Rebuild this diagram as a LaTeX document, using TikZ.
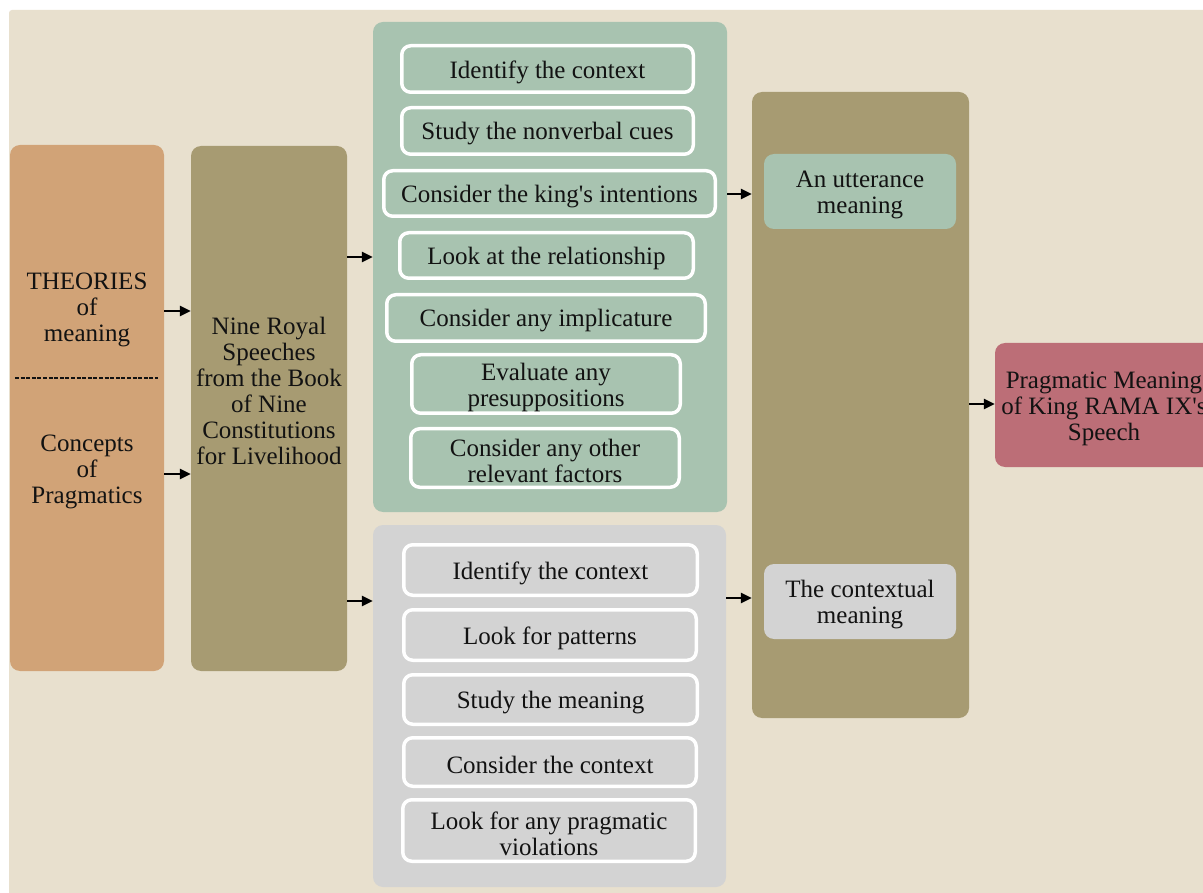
\documentclass[tikz,border=0pt]{standalone}
\usepackage{fontspec}
\setmainfont{Liberation Serif}[Ligatures=TeXOff]
\usetikzlibrary{arrows.meta}
\definecolor{bgbeige}{HTML}{E8E0CE}
\definecolor{tanc}{HTML}{D1A377}
\definecolor{olivec}{HTML}{A79B72}
\definecolor{greenc}{HTML}{A8C3B0}
\definecolor{greyc}{HTML}{D3D3D3}
\definecolor{redc}{HTML}{BC6E77}
\definecolor{inkc}{HTML}{121212}
\newcommand\diafont{\fontsize{25}{26}\selectfont}
\tikzset{
  panel/.style={rectangle, rounded corners=10pt, inner sep=0pt},
  item/.style={rectangle, rounded corners=9pt, draw=white, line width=3.5pt, inner sep=0pt},
  lbl/.style={align=center, font=\diafont, inner sep=0pt, text=inkc},
  tlbl/.style={lbl, yshift=-3pt},
  arr/.style={-{Triangle[length=11pt,width=10pt]}, line width=2.8pt, black}
}
\begin{document}
\begin{tikzpicture}[x=1pt,y=-1pt]
\useasboundingbox (0,0) rectangle (1203,893);
\fill[white] (0,0) rectangle (1203,893);
\fill[bgbeige, rounded corners=3pt] (9,10) rectangle (1215,905);

% left columns
\node[panel, fill=tanc, minimum width=154pt, minimum height=526pt] (A) at (87,408) {};
\node[panel, fill=olivec, minimum width=156pt, minimum height=525pt] (B) at (269,408.5) {};
\node[lbl] (theo) at (87,310) {THEORIES\\of\\meaning};
\node[lbl] (conc) at (87,472) {Concepts\\of\\Pragmatics};
\coordinate (dl) at (15,378);
\coordinate (dr) at (158,378);
\draw[line width=2.4pt, dash pattern=on 4pt off 1.6pt, inkc] (dl) -- (dr);
\node[lbl] (nine) at (269,391) {Nine Royal\\Speeches\\from the Book\\of Nine\\Constitutions\\for Livelihood};

% green container
\node[panel, fill=greenc, minimum width=354pt, minimum height=490pt] (G) at (550,267) {};
\node[item, fill=greenc, minimum width=291.5pt, minimum height=46.5pt] (g1) at (547.5,69) {};
\node[item, fill=greenc, minimum width=291.5pt, minimum height=46.5pt] (g2) at (547.5,131) {};
\node[item, fill=greenc, minimum width=331.5pt, minimum height=45.5pt] (g3) at (549.5,193.5) {};
\node[item, fill=greenc, minimum width=293.5pt, minimum height=45.5pt] (g4) at (546.5,255.5) {};
\node[item, fill=greenc, minimum width=318.5pt, minimum height=46.5pt] (g5) at (546,318) {};
\node[item, fill=greenc, minimum width=268.5pt, minimum height=58.5pt] (g6) at (546,384) {};
\node[item, fill=greenc, minimum width=268.5pt, minimum height=58.5pt] (g7) at (545,458) {};
\node[tlbl] (g1t) at (g1) {Identify the context};
\node[tlbl] (g2t) at (g2) {Study the nonverbal cues};
\node[tlbl] (g3t) at (g3) {Consider the king's intentions};
\node[tlbl] (g4t) at (g4) {Look at the relationship};
\node[tlbl] (g5t) at (g5) {Consider any implicature};
\node[tlbl] (g6t) at (g6) {Evaluate any\\presuppositions};
\node[tlbl] (g7t) at (g7) {Consider any other\\relevant factors};

% grey container
\node[panel, fill=greyc, minimum width=353pt, minimum height=362pt] (Gr) at (549.5,706) {};
\node[item, fill=greyc, minimum width=293.5pt, minimum height=50.5pt] (r1) at (550.5,570) {};
\node[item, fill=greyc, minimum width=292.5pt, minimum height=50.5pt] (r2) at (550,635) {};
\node[item, fill=greyc, minimum width=293.5pt, minimum height=49.5pt] (r3) at (550.5,699.5) {};
\node[item, fill=greyc, minimum width=292.5pt, minimum height=48.5pt] (r4) at (550,762) {};
\node[item, fill=greyc, minimum width=292.5pt, minimum height=61.5pt] (r5) at (549,830.5) {};
\node[tlbl] (r1t) at (r1) {Identify the context};
\node[tlbl] (r2t) at (r2) {Look for patterns};
\node[tlbl] (r3t) at (r3) {Study the meaning};
\node[tlbl] (r4t) at (r4) {Consider the context};
\node[tlbl] (r5t) at (r5) {Look for any pragmatic\\violations};

% right olive container
\node[panel, fill=olivec, minimum width=217pt, minimum height=626pt] (O) at (860.5,405) {};
\node[panel, fill=greenc, minimum width=192pt, minimum height=75pt] (U) at (860,191.5) {};
\node[panel, fill=greyc, minimum width=192pt, minimum height=75pt] (C) at (860,601.5) {};
\node[tlbl] (Ut) at (U) {An utterance\\meaning};
\node[tlbl] (Ct) at (C) {The contextual\\meaning};

% result
\node[panel, fill=redc, minimum width=218pt, minimum height=124pt] (R) at (1104,405) {};
\node[lbl, yshift=-4pt] (Rt) at (R) {Pragmatic Meaning\\of King RAMA IX's\\Speech};

% arrows
\draw[arr] (A.east |- 0,311) -- (B.west |- 0,311);
\draw[arr] (A.east |- 0,474) -- (B.west |- 0,474);
\draw[arr] (B.east |- 0,257) -- (G.west |- 0,257);
\draw[arr] (B.east |- 0,601) -- (Gr.west |- 0,601);
\draw[arr] (G.east |- 0,194) -- (O.west |- 0,194);
\draw[arr] (Gr.east |- 0,598) -- (O.west |- 0,598);
\draw[arr] (O.east |- 0,404) -- (R.west |- 0,404);
\end{tikzpicture}
\end{document}
